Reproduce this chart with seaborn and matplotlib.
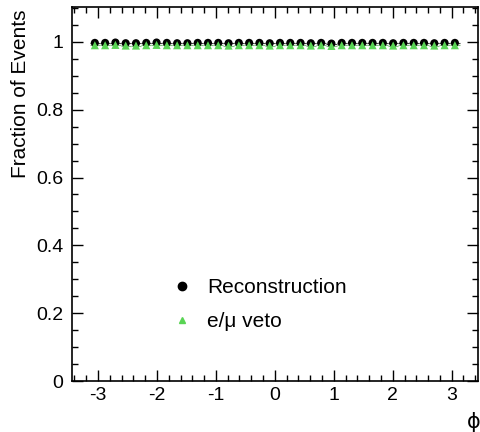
import numpy as np
import pandas as pd
import matplotlib
matplotlib.use("Agg")
import matplotlib.pyplot as plt
import seaborn as sns
from matplotlib.ticker import MultipleLocator
from matplotlib.lines import Line2D

# ---- data ----
n_bins = 36
bin_edges = np.linspace(-np.pi, np.pi, n_bins + 1)
phi_centers = 0.5 * (bin_edges[:-1] + bin_edges[1:])
reco_vals = [0.997, 0.997, 0.998, 0.996, 0.996, 0.997, 0.998, 0.997, 0.996, 0.996, 0.997, 0.997,
             0.997, 0.996, 0.997, 0.997, 0.997, 0.996, 0.997, 0.997, 0.997, 0.996, 0.997, 0.995,
             0.997, 0.997, 0.997, 0.997, 0.997, 0.996, 0.997, 0.997, 0.997, 0.996, 0.997, 0.997]
veto_vals = [0.990, 0.990, 0.991, 0.989, 0.989, 0.990, 0.991, 0.990, 0.990, 0.990, 0.990, 0.990,
             0.990, 0.989, 0.990, 0.990, 0.990, 0.989, 0.990, 0.990, 0.990, 0.989, 0.990, 0.988,
             0.990, 0.990, 0.990, 0.990, 0.990, 0.989, 0.990, 0.990, 0.990, 0.989, 0.990, 0.990]
series_names = ["Reconstruction", "e/\u03bc veto"]
x_ticks = [-3, -2, -1, 0, 1, 2, 3]
x_tick_labels = ["-3", "-2", "-1", "0", "1", "2", "3"]
y_ticks = [0, 0.2, 0.4, 0.6, 0.8, 1.0]
y_tick_labels = ["0", "0.2", "0.4", "0.6", "0.8", "1"]

df = pd.DataFrame({
    "phi": np.concatenate([phi_centers, phi_centers]),
    "frac": np.concatenate([reco_vals, veto_vals]),
    "series": [series_names[0]] * n_bins + [series_names[1]] * n_bins,
})

sns.set_theme(style="ticks")
plt.rcParams["font.family"] = ["Liberation Sans", "DejaVu Sans"]
plt.rcParams["axes.unicode_minus"] = False
plt.rcParams["text.color"] = "black"
plt.rcParams["axes.labelcolor"] = "black"

fig = plt.figure(figsize=(4.8, 4.32), dpi=100)
ax = fig.add_axes([0.149, 0.118, 0.846, 0.866])

black = "#000000"
green = "#59d454"
half_w = 0.5 * (bin_edges[1] - bin_edges[0])

# x error bars (bin widths)
ax.errorbar(phi_centers, reco_vals, xerr=half_w, fmt="none", ecolor="#444444", elinewidth=0.8, zorder=2)
ax.errorbar(phi_centers, veto_vals, xerr=half_w, fmt="none", ecolor="#7fbf7f", elinewidth=0.8, zorder=2)

sns.scatterplot(data=df, x="phi", y="frac", hue="series", style="series",
                palette={series_names[0]: black, series_names[1]: green},
                markers={series_names[0]: "o", series_names[1]: "^"},
                s=34, linewidth=0, ax=ax, zorder=3, legend=False)

ax.set_xlim(-3.45, 3.44)
ax.set_ylim(0, 1.103)
ax.set_xticks(x_ticks)
ax.set_xticklabels(x_tick_labels)
ax.set_yticks(y_ticks)
ax.set_yticklabels(y_tick_labels)
ax.xaxis.set_minor_locator(MultipleLocator(0.2))
ax.yaxis.set_minor_locator(MultipleLocator(0.05))
ax.tick_params(which="both", direction="in", top=True, right=True, labelsize=14, colors="black")
ax.tick_params(which="major", length=8, width=1)
ax.tick_params(which="minor", length=4, width=1)
ax.tick_params(axis="x", which="major", pad=4)
ax.tick_params(axis="y", which="major", pad=6)
for sp in ax.spines.values():
    sp.set_linewidth(1.2)
    sp.set_color("black")
ax.set_xlabel("")
ax.set_ylabel("")

ax.text(-0.125, 0.993, "Fraction of Events", rotation=90, ha="center", va="top",
        transform=ax.transAxes, fontsize=15, color="black")
ax.text(0.99, -0.11, "\u03d5", ha="center", va="center", transform=ax.transAxes,
        fontsize=15, family=["DejaVu Sans"], color="black")

# legend
handles = [Line2D([], [], ls="none", marker="o", color=black, markersize=6),
           Line2D([], [], ls="none", marker="^", color=green, markersize=5)]
leg = ax.legend(handles, series_names, loc="upper left", bbox_to_anchor=(0.227, 0.297),
                frameon=False, fontsize=15, handlelength=1.0, handletextpad=0.7, labelspacing=0.72,
                borderaxespad=0)
for t in leg.get_texts():
    t.set_color("black")

fig.savefig("out.png", dpi=100)
